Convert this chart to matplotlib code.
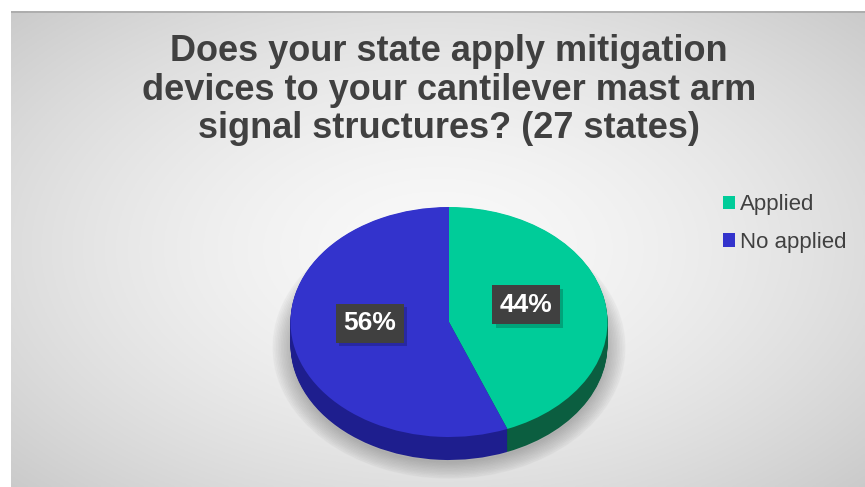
import numpy as np
import matplotlib.pyplot as plt
import matplotlib.patheffects as pe
from matplotlib.patches import Ellipse

plt.rcParams['font.family'] = ['Liberation Sans', 'DejaVu Sans']

# ---------------------------------------------------------
# data
# ---------------------------------------------------------
title = ("Does your state apply mitigation\n"
         "devices to your cantilever mast arm\n"
         "signal structures? (27 states)")
categories = ["Applied", "No applied"]
shares = [44, 56]
top_colors = ["#00CC99", "#3333CC"]
side_colors = ["#0B5E40", "#1E1E8E"]

W, H = 865, 487
fig = plt.figure(figsize=(W / 100, H / 100), dpi=100)

# ---------------------------------------------------------
# radial gradient background inside the chart frame
# ---------------------------------------------------------
x0, y0 = 11, 11
bg = fig.add_axes([x0 / W, 0, (W - x0) / W, (H - y0) / H])
gx, gy = np.meshgrid(np.linspace(-1, 1, 400), np.linspace(-1, 1, 240))
r = np.sqrt((gx * 0.95) ** 2 + (gy * 0.9) ** 2)
shade = 0.975 - 0.19 * np.clip(r / 1.35, 0, 1) ** 1.6
bg.imshow(np.dstack([shade] * 3), aspect="auto", extent=[0, 1, 0, 1])
bg.plot([0, 1], [0.998, 0.998], color="#a8a8a8", lw=1.2)
bg.set_xlim(0, 1)
bg.set_ylim(0, 1)
bg.axis("off")

# ---------------------------------------------------------
# title
# ---------------------------------------------------------
fig.text(449 / W, 1 - 90 / H, title, ha="center", va="center",
         fontsize=26, fontweight="bold", color="#404040",
         linespacing=1.12)

# ---------------------------------------------------------
# pseudo 3D pie: stretched axes, stacked side layers, then top face
# ---------------------------------------------------------
cx, top, bot_face, depth_px = 449, 207, 437, 23
a = 158.5
b = (bot_face - top) / 2
depth = depth_px / b
ax = fig.add_axes([(cx - a) / W, 1 - (bot_face + depth_px) / H,
                   2 * a / W, (bot_face - top + depth_px) / H])

# soft shadow under the pie
for k in range(12):
    ax.add_patch(Ellipse((0.0, -depth - 0.02), 2.0 + 0.02 * k,
                         2.0 + 0.025 * k, color="#000000", alpha=0.018,
                         clip_on=False, zorder=0))

for d in np.linspace(depth, 0.005, 25):
    ax.pie(shares, colors=side_colors, startangle=90, counterclock=False,
           center=(0, -d), wedgeprops=dict(linewidth=0))
wedges, _ = ax.pie(shares, colors=top_colors, startangle=90,
                   counterclock=False, center=(0, 0),
                   wedgeprops=dict(linewidth=0))
ax.set_aspect("auto")
ax.set_xlim(-1, 1)
ax.set_ylim(-1 - depth, 1)
ax.axis("off")

# percentage labels in dark boxes with a soft drop shadow
total = sum(shares)
label_pos = [(0.485, 0.15), (-0.50, -0.01)]
for v, (lx, ly) in zip(shares, label_pos):
    t = ax.text(lx, ly, f"{v / total * 100:.0f}%", ha="center", va="center",
                fontsize=19, fontweight="bold", color="white",
                bbox=dict(boxstyle="square,pad=0.28", fc="#404040",
                          ec="none"), zorder=6)
    t.get_bbox_patch().set_path_effects([
        pe.SimplePatchShadow(offset=(2.5, -2.5), shadow_rgbFace="black",
                             alpha=0.2),
        pe.Normal()])

# ---------------------------------------------------------
# legend
# ---------------------------------------------------------
leg = fig.legend(wedges, categories, loc="upper left",
                 bbox_to_anchor=(712 / W, 1 - 183 / H), frameon=False,
                 fontsize=16, labelcolor="#404040", handlelength=0.55,
                 handleheight=0.55, handletextpad=0.2, labelspacing=0.75,
                 borderpad=0)

fig.savefig("out.png", dpi=100)
